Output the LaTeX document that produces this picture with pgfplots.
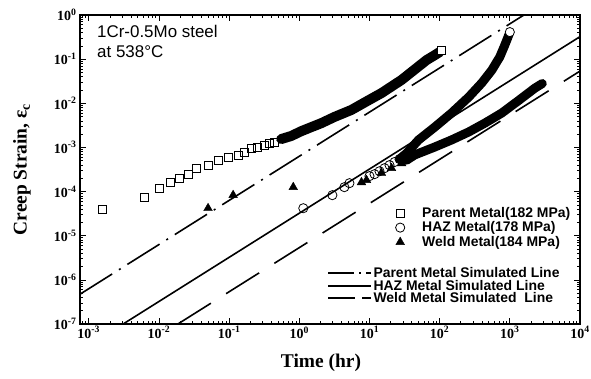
\documentclass[border=0pt]{standalone}
\usepackage{fontspec}
\setmainfont{Liberation Serif}
\setsansfont{Liberation Sans}
\usepackage{pgfplots}
\pgfplotsset{compat=1.18}
\begin{document}
\begin{tikzpicture}[x=1bp,y=1bp]
\useasboundingbox (0,0) rectangle (591,378);
\begin{axis}[
  at={(80bp,54bp)}, anchor=south west,
  scale only axis, width=500bp, height=309bp,
  xmode=log, ymode=log, log basis x=10, log basis y=10,
  xmin=7.5e-4, xmax=1e4, ymin=1e-7, ymax=1,
  xtick={1e-3,1e-2,1e-1,1,1e1,1e2,1e3,1e4},
  ytick={1e-7,1e-6,1e-5,1e-4,1e-3,1e-2,1e-1,1},
  minor xtick={8e-4,9e-4,
    2e-3,3e-3,4e-3,5e-3,6e-3,7e-3,8e-3,9e-3,
    2e-2,3e-2,4e-2,5e-2,6e-2,7e-2,8e-2,9e-2,
    0.2,0.3,0.4,0.5,0.6,0.7,0.8,0.9,
    2,3,4,5,6,7,8,9,
    20,30,40,50,60,70,80,90,
    200,300,400,500,600,700,800,900,
    2000,3000,4000,5000,6000,7000,8000,9000},
  minor ytick={2e-7,3e-7,4e-7,5e-7,6e-7,7e-7,8e-7,9e-7,
    2e-6,3e-6,4e-6,5e-6,6e-6,7e-6,8e-6,9e-6,
    2e-5,3e-5,4e-5,5e-5,6e-5,7e-5,8e-5,9e-5,
    2e-4,3e-4,4e-4,5e-4,6e-4,7e-4,8e-4,9e-4,
    2e-3,3e-3,4e-3,5e-3,6e-3,7e-3,8e-3,9e-3,
    2e-2,3e-2,4e-2,5e-2,6e-2,7e-2,8e-2,9e-2,
    0.2,0.3,0.4,0.5,0.6,0.7,0.8,0.9},
  axis line style={line width=1.4bp},
  major tick length=6bp, minor tick length=3.5bp,
  every tick/.style={black, line width=0.7bp},
  xticklabel={\textbf{10\textsuperscript{\pgfmathprintnumber[fixed,precision=0,assume math mode=true]{\tick}}}},
  yticklabel={\textbf{10\textsuperscript{\pgfmathprintnumber[fixed,precision=0,assume math mode=true]{\tick}}}},
  tick label style={font=\fontsize{14}{16}\selectfont},
  xticklabel style={yshift=1bp},
  xlabel={\textbf{Time (hr)}}, ylabel={\textbf{Creep Strain, ε\textsubscript{c}}},
  label style={font=\fontsize{19.5}{22}\selectfont},
  xlabel style={at={(axis description cs:0.482,-0.127)}, anchor=center},
  ylabel style={at={(axis description cs:-0.116,0.5)}, anchor=center},
  legend style={at={(axis description cs:0.624,0.383)}, anchor=north west, draw=none, fill=none, inner sep=0pt,
    font=\sffamily\bfseries\fontsize{14}{14}\selectfont, row sep=0pt, column sep=0pt,
    nodes={inner sep=1bp, text height=10.5bp, text depth=2bp}},
  legend cell align=left,
  legend image code/.code={\path[draw=none,fill=none] (-8bp,-3bp) rectangle (21bp,3bp); \draw[#1] plot coordinates {(0bp,0bp)};},
]
% simulated lines
\addplot[black, line width=1.6bp, dash pattern=on 38bp off 8bp on 2bp off 8bp, forget plot] coordinates {(7.5e-4,4.73e-7) (1585,1)};
\addplot[black, line width=1.6bp, forget plot] coordinates {(3.09e-3,1e-7) (1e4,0.3236)};
\addplot[black, line width=1.6bp, dash pattern=on 39bp off 18bp, forget plot] coordinates {(0.0186,1e-7) (1e4,0.0537)};

% Parent metal
\addplot[only marks, mark=square, mark size=4bp, mark options={black, line width=0.8bp}] coordinates {
(1.55e-3,3.98e-5) (6.17e-3,7.41e-5) (1.02e-2,1.20e-4) (1.48e-2,1.62e-4) (1.93e-2,2.00e-4)
(2.59e-2,2.46e-4) (3.38e-2,3.39e-4) (5.01e-2,3.98e-4) (6.97e-2,5.13e-4) (9.68e-2,6.03e-4)
(0.1345,6.76e-4) (0.164,7.9e-4) (0.206,9.55e-4) (0.251,1.02e-3) (0.316,1.12e-3) (0.372,1.26e-3) (0.44,1.32e-3)};
\addlegendentry{Parent Metal(182 MPa)}
% HAZ metal
\addplot[only marks, mark=o, mark size=4.6bp, mark options={black, line width=0.8bp}] coordinates {
(1.14,4.2e-5) (2.96,8.3e-5) (4.39,1.26e-4) (5.18,1.55e-4) (10.0,2.24e-4) (11.8,2.48e-4)
(13.9,2.89e-4) (16.4,3.39e-4) (19.3,3.98e-4) (22.8,4.68e-4) (26.8,5.43e-4)};
\addlegendentry{HAZ Metal(178 MPa)}
% Weld metal
\addplot[only marks, mark=triangle*, mark size=5bp, mark options={black}] coordinates {
(0.0501,4.2e-5) (0.114,8.3e-5) (0.82,1.26e-4) (7.69,1.62e-4) (9.06,1.82e-4) (14.8,2.63e-4) (20.6,3.39e-4) (28.7,4.37e-4)};
\addlegendentry{Weld Metal(184 MPa)}

% dense data bands
\addplot[black, line width=10bp, line join=round, line cap=round, forget plot] coordinates {
(0.553,1.55e-3) (0.769,1.82e-3) (1.069,2.34e-3) (1.48,2.88e-3) (2.06,3.55e-3) (3.16,4.90e-3)
(5.53,7.08e-3) (9.68,1.17e-2) (14.8,1.70e-2) (28.7,3.39e-2) (46.9,6.3e-2) (65.2,9.55e-2) (84.9,0.123) (100,0.145)};
\addplot[only marks, mark=square*, mark size=4bp, mark options={draw=black, fill=white, line width=0.8bp}, forget plot] coordinates {(107,0.16)};
\addplot[black, line width=9bp, line join=round, line cap=round, forget plot] coordinates {
(26.8,5.43e-4) (33.8,7.41e-4) (50.1,1.48e-3) (84.9,2.88e-3) (148,6.03e-3) (259,1.38e-2)
(398,2.88e-2) (553,5.62e-2) (719,0.112) (849,0.209) (968,0.355)};
\addplot[only marks, mark=*, mark size=4.6bp, mark options={draw=black, fill=white, line width=0.8bp}, forget plot] coordinates {(1000,0.41)};
\addplot[black, line width=9bp, line join=round, line cap=round, forget plot] coordinates {
(33.8,5.13e-4) (44.0,6.76e-4) (84.9,1.02e-3) (148,1.48e-3) (259,2.24e-3) (440,3.55e-3)
(769,6.03e-3) (1346,1.17e-2) (2276,2.21e-2) (2900,2.8e-2)};

\node[anchor=north west, inner sep=0pt, align=left, font=\sffamily\fontsize{17}{20}\selectfont] at (axis description cs:0.034,0.968) {1Cr-0.5Mo steel\\at 538°C};
\end{axis}
\begin{axis}[
  at={(80bp,54bp)}, anchor=south west,
  scale only axis, width=500bp, height=309bp,
  xmode=log, ymode=log, xmin=7.5e-4, xmax=1e4, ymin=1e-7, ymax=1,
  hide axis,
  legend style={at={(axis description cs:0.494,0.185)}, anchor=north west, draw=none, fill=none, inner sep=0pt,
    font=\sffamily\bfseries\fontsize{14}{14}\selectfont, row sep=0pt, column sep=0pt,
    nodes={inner sep=0.5bp, text height=10bp, text depth=1.5bp}},
  legend cell align=left,
  legend image code/.code={\path[draw=none,fill=none] (0bp,-2bp) rectangle (45bp,2bp); \draw[#1] (0bp,0bp) -- (43bp,0bp);},
]
\addlegendimage{black, line width=1.6bp, dash pattern=on 26bp off 5bp on 2bp off 5bp}
\addlegendentry{Parent Metal Simulated Line}
\addlegendimage{black, line width=1.6bp}
\addlegendentry{HAZ Metal Simulated Line}
\addlegendimage{black, line width=1.6bp, dash pattern=on 27bp off 7bp}
\addlegendentry{Weld Metal Simulated\ \ Line}
\end{axis}
\end{tikzpicture}
\end{document}
